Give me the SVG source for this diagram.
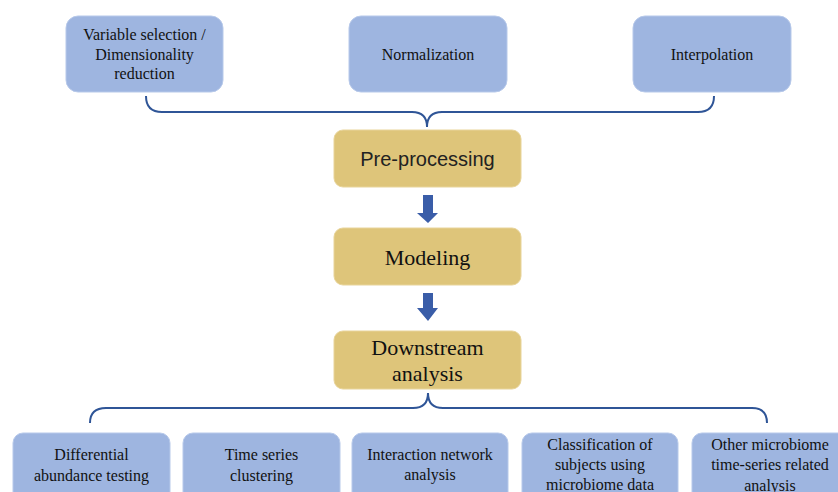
<svg xmlns="http://www.w3.org/2000/svg" width="838" height="492" viewBox="0 0 838 492">
<style>
.blue{fill:#9EB5E0;stroke:#B7C9EA;stroke-width:1}
.gold{fill:#DEC57A;stroke:#E8D49A;stroke-width:1}
.s{font-family:"Liberation Serif","Times New Roman",serif;font-size:16px;fill:#111;text-anchor:middle}
.l{font-family:"Liberation Serif","Times New Roman",serif;font-size:22px;fill:#111;text-anchor:middle}
.c{font-family:"Liberation Sans",Arial,sans-serif;font-size:20px;fill:#222;text-anchor:middle}
.brace{fill:none;stroke:#2F5597;stroke-width:2}
.arr{fill:#3A5DA8}
</style>
<rect width="838" height="492" fill="#fff"/>
<g id="connectors">
<path class="brace" d="M146,96 Q146,112 162,112 L412,112 Q427,112 427,127 Q427,112 442,112 L698,112 Q714,112 714,96"/>
<path class="brace" d="M90,423 Q90,408 106,408 L413,408 Q428,408 428,393 Q428,408 443,408 L752,408 Q767,408 767,423"/>
<path class="arr" d="M423,195 H433 V213 H438 L428,223 L417,213 H423 Z"/>
<path class="arr" d="M423,293 H433 V308 H438 L428,321 L417,308 H423 Z"/>
</g>
<g id="n-varsel">
<rect class="blue" x="66" y="16" width="157" height="76" rx="12"/>
<text class="s" x="144.5" y="40">Variable selection /</text>
<text class="s" x="144.5" y="60">Dimensionality</text>
<text class="s" x="144.5" y="79">reduction</text>
</g>
<g id="n-norm">
<rect class="blue" x="349" y="16" width="158" height="76" rx="12"/>
<text class="s" x="428" y="60">Normalization</text>
</g>
<g id="n-interp">
<rect class="blue" x="633" y="16" width="158" height="76" rx="12"/>
<text class="s" x="712" y="60">Interpolation</text>
</g>
<g id="n-preproc">
<rect class="gold" x="334" y="130" width="187" height="57" rx="9"/>
<text class="c" x="427.5" y="166">Pre-processing</text>
</g>
<g id="n-model">
<rect class="gold" x="334" y="228" width="187" height="57" rx="9"/>
<text class="l" x="427.5" y="265">Modeling</text>
</g>
<g id="n-down">
<rect class="gold" x="334" y="331" width="187" height="58" rx="9"/>
<text class="l" x="427.5" y="355">Downstream</text>
<text class="l" x="427.5" y="381">analysis</text>
</g>
<g id="n-diff">
<rect class="blue" x="13" y="433" width="157" height="76" rx="10"/>
<text class="s" x="91.5" y="460">Differential</text>
<text class="s" x="91.5" y="481">abundance testing</text>
</g>
<g id="n-clust">
<rect class="blue" x="183" y="433" width="157" height="76" rx="10"/>
<text class="s" x="261.5" y="460">Time series</text>
<text class="s" x="261.5" y="481">clustering</text>
</g>
<g id="n-inter">
<rect class="blue" x="352" y="433" width="156" height="76" rx="10"/>
<text class="s" x="430" y="460">Interaction network</text>
<text class="s" x="430" y="480">analysis</text>
</g>
<g id="n-class">
<rect class="blue" x="522" y="433" width="156" height="76" rx="10"/>
<text class="s" x="600" y="450">Classification of</text>
<text class="s" x="600" y="470">subjects using</text>
<text class="s" x="600" y="490">microbiome data</text>
</g>
<g id="n-other">
<rect class="blue" x="692" y="433" width="157" height="76" rx="10"/>
<text class="s" x="770" y="450">Other microbiome</text>
<text class="s" x="770" y="470">time-series related</text>
<text class="s" x="770" y="491">analysis</text>
</g>
</svg>
